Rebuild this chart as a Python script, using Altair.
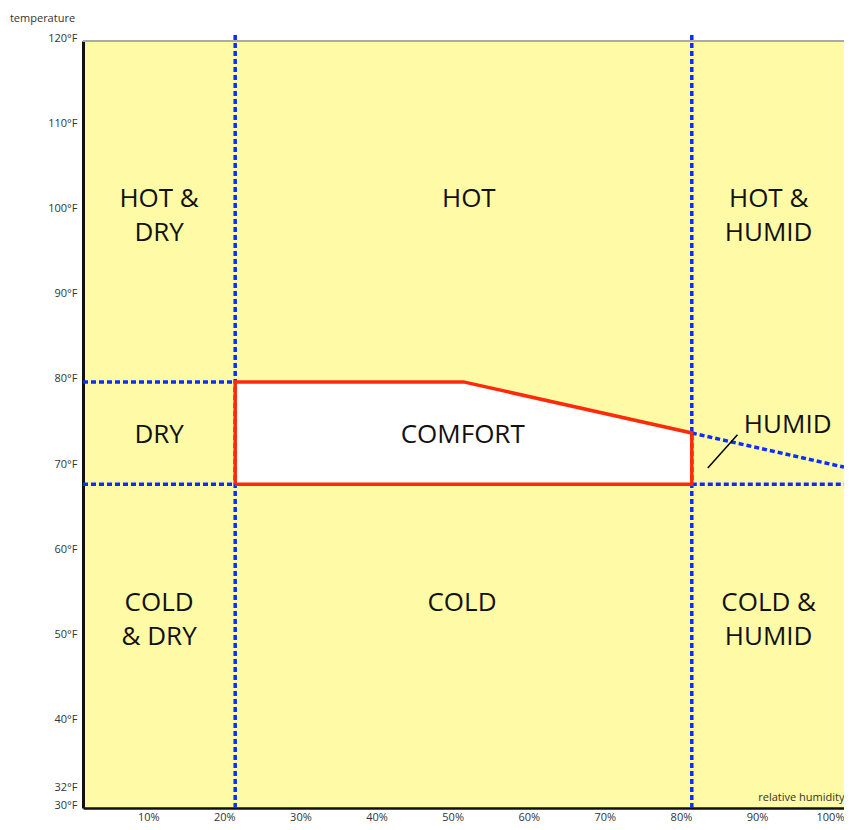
import altair as alt
import pandas as pd

# ---- data ----
y_ticks = [30, 32, 40, 50, 60, 70, 80, 90, 100, 110, 120]
x_ticks = [10, 20, 30, 40, 50, 60, 70, 80, 90, 100]

# comfort zone outline (relative humidity %, temperature F)
comfort_x = [20, 20, 50, 80, 80, 20]
comfort_y = [68, 80, 80, 74, 68, 68]
# fill of comfort zone (upper boundary, lower bound 68)
fill_x = [20, 50, 80]
fill_top = [80, 80, 74]
fill_bottom = [68, 68, 68]

# blue dashed boundary segments: (x1, y1, x2, y2)
seg_x1 = [20, 80, 0, 0, 80, 80]
seg_y1 = [30, 30, 80, 68, 68, 74]
seg_x2 = [20, 80, 20, 20, 100, 100]
seg_y2 = [120.9, 120.9, 80, 68, 68, 70]

# region labels (y = first text line)
label_text = ["HOT &\nDRY", "HOT", "HOT &\nHUMID", "DRY", "COMFORT", "HUMID",
              "COLD\n& DRY", "COLD", "COLD &\nHUMID"]
label_x = [10, 50.7, 90.1, 10, 49.9, 92.6, 10, 49.8, 90.1]
label_y = [101.5, 101.5, 101.5, 73.8, 73.8, 75, 54.1, 54.1, 54.1]

# pointer line for HUMID label
pointer_x = [82.1, 86.0]
pointer_y = [69.9, 73.8]

YELLOW = "#FFFAA6"
BLUE = "#0A2EFF"
RED = "#FF2A0A"
FONT = "Open Sans"
W = 761
H = 767

xs = alt.Scale(domain=[0, 100], nice=False, zero=False)
ys = alt.Scale(domain=[30, 120], nice=False, zero=False)

x_axis = alt.Axis(values=x_ticks, labelExpr="datum.value + '%'", labelAlign="right",
                  labelFont=FONT, labelFontSize=11, labelColor="#333", labelPadding=3,
                  ticks=False, domainColor="#111", domainWidth=2.5, grid=False,
                  title="relative humidity", titleFont=FONT, titleFontSize=11,
                  titleFontWeight="normal", titleColor="#333", titleAlign="right",
                  titleBaseline="middle", titleX=W, titleY=-11)
y_axis = alt.Axis(values=y_ticks, labelExpr="datum.value + '°F'",
                  labelFont=FONT, labelFontSize=11, labelColor="#333", labelPadding=6,
                  labelOffset=-3, ticks=False,
                  domainColor="#111", domainWidth=3, grid=False,
                  title="temperature", titleFont=FONT, titleFontSize=11,
                  titleFontWeight="normal", titleColor="#333", titleAngle=0,
                  titleAlign="center", titleBaseline="middle", titleX=-41, titleY=-23)

# base axis layer (top border rule)
top_df = pd.DataFrame({"x": [0], "x2": [100], "y": [120]})
top = alt.Chart(top_df).mark_rule(color="#aaaaaa", strokeWidth=2).encode(
    x=alt.X("x:Q", scale=xs, axis=x_axis),
    x2="x2:Q",
    y=alt.Y("y:Q", scale=ys, axis=y_axis),
)

fill_df = pd.DataFrame({"x": fill_x, "top": fill_top, "bottom": fill_bottom})
fill = alt.Chart(fill_df).mark_area(color="white", opacity=1).encode(
    x=alt.X("x:Q", scale=xs), y=alt.Y("top:Q", scale=ys), y2="bottom:Q"
)

seg_df = pd.DataFrame({"x": seg_x1, "y": seg_y1, "x2": seg_x2, "y2": seg_y2})
segs = alt.Chart(seg_df).mark_rule(color=BLUE, strokeWidth=3.5, strokeDash=[5, 3],
                                   clip=False).encode(
    x=alt.X("x:Q", scale=xs), y=alt.Y("y:Q", scale=ys), x2="x2:Q", y2="y2:Q"
)

outline_df = pd.DataFrame({"x": comfort_x, "y": comfort_y, "o": list(range(len(comfort_x)))})
outline = alt.Chart(outline_df).mark_line(color=RED, strokeWidth=3.5, strokeJoin="miter").encode(
    x=alt.X("x:Q", scale=xs), y=alt.Y("y:Q", scale=ys), order="o:Q"
)

ptr_df = pd.DataFrame({"x": [pointer_x[0]], "y": [pointer_y[0]],
                       "x2": [pointer_x[1]], "y2": [pointer_y[1]]})
ptr = alt.Chart(ptr_df).mark_rule(color="black", strokeWidth=1.5).encode(
    x=alt.X("x:Q", scale=xs), y=alt.Y("y:Q", scale=ys), x2="x2:Q", y2="y2:Q"
)

lab_df = pd.DataFrame({"t": label_text, "x": label_x, "y": label_y})
labels = alt.Chart(lab_df).mark_text(font=FONT, fontSize=26, color="#111",
                                     lineBreak="\n", lineHeight=34, align="center",
                                     baseline="middle").encode(
    x=alt.X("x:Q", scale=xs), y=alt.Y("y:Q", scale=ys), text="t:N"
)

chart = alt.layer(top, fill, segs, outline, ptr, labels).properties(
    width=W, height=H,
    autosize=alt.AutoSizeParams(type="none"),
    padding={"left": 75, "top": 33, "right": 0, "bottom": 14},
).configure_view(fill=YELLOW, strokeWidth=0)

chart.save("out.html", embed_options={"renderer": "svg", "actions": False})
